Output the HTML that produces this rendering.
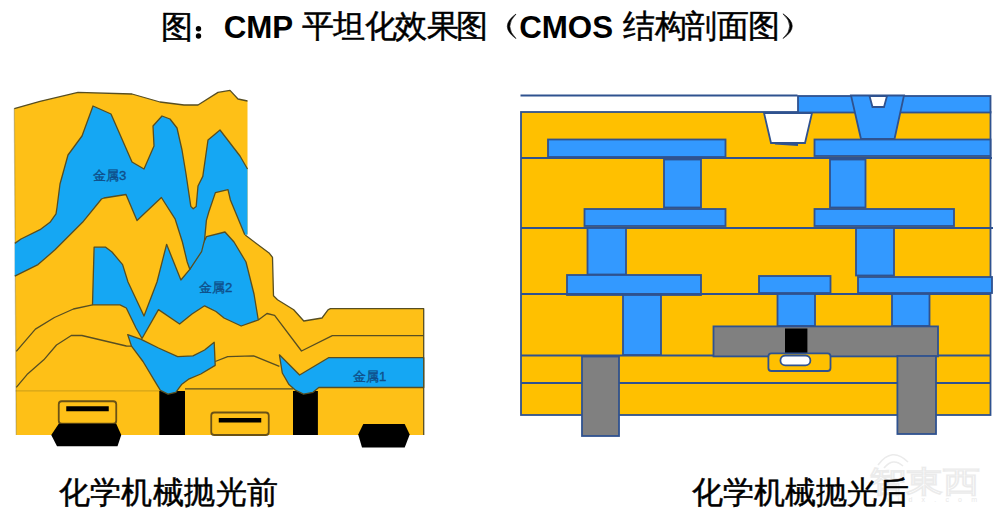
<!DOCTYPE html>
<html><head><meta charset="utf-8">
<style>
html,body{margin:0;padding:0;background:#fff;width:1000px;height:520px;overflow:hidden;}
body{position:relative;font-family:"Liberation Sans",sans-serif;}
svg{position:absolute;left:0;top:0;}
.t{position:absolute;white-space:nowrap;color:#000;line-height:1;-webkit-text-stroke:0.5px #000;}
</style></head><body>
<svg width="1000" height="520" viewBox="0 0 1000 520">
<!-- LEFT DIAGRAM -->
<g stroke="#574e22" stroke-width="1.3" stroke-linejoin="round">
<polygon fill="#FEC017" stroke="none" points="14.3,108.6 40,101.3 78,92.4 132,94 160,102 184,105 198,105 218,92.4 230,90.4 238,99 247.5,101 247.5,234 245.2,235.1 269.4,253.3 272.5,257.3 273.5,295.7 277.5,299.7 293.7,309.8 303.8,321 322,318 328,309.8 330.4,308.7 423.7,308.7 423.7,435 16.2,435"/>
<polyline fill="none" points="14.3,108.6 40,101.3 78,92.4 132,94 160,102 184,105 198,105 218,92.4 230,90.4 238,99 247.5,101"/>
<polyline fill="none" points="245.2,235.1 269.4,253.3 272.5,257.3 273.5,295.7 277.5,299.7 293.7,309.8 303.8,321 322,318 328,309.8 330.4,308.7 423.7,308.7 423.7,435"/>
<line x1="14.3" y1="108.6" x2="16.2" y2="435" stroke-opacity="0.3"/>
<polygon fill="#15A7F3" points="94.1,247.2 105.7,247.2 112,252 122.6,264.6 128,282 144,316 157,282 166.6,244.3 180.9,280 189.8,269.3 206.5,236.6 225,232 234,242 246,262 254,294 258.3,320 241.2,326 224,318 216,311.5 204.6,305.8 192,314 179.6,324 158.5,309.6 142,338.5 136,328 126.3,308 120,304.8 92.5,304.8"/>
<polygon fill="#15A7F3" stroke="none" points="14.8,243.4 21,239 40,229.7 50,222.3 56,213.8 57,207.5 60,184 68,155 82,136 93,106 111,114 132,162 144,169 154,146 153,126 162,116 170,119 177,128 182,150 186,174 190.8,206.4 193.2,208.8 196.2,206.4 198,186 202.8,176.4 208,140 220,130 240,156 247.5,169 247.5,234.8 244.8,234.8 230.4,200 228,189.6 215.4,192.6 208.8,212 206.4,220.4 204.6,239.6 201.6,251.6 189.8,269.3 187.2,262 182.4,242 175.2,219.2 161.4,197.5 137,220.5 126,194.5 104,198 101.5,199 82.5,222.3 55,249.8 38,264.6 14.8,276.2"/>
<polyline fill="none" points="14.8,243.4 21,239 40,229.7 50,222.3 56,213.8 57,207.5 60,184 68,155 82,136 93,106 111,114 132,162 144,169 154,146 153,126 162,116 170,119 177,128 182,150 186,174 190.8,206.4 193.2,208.8 196.2,206.4 198,186 202.8,176.4 208,140 220,130 240,156 247.5,169"/>
<polyline fill="none" points="244.8,234.8 230.4,200 228,189.6 215.4,192.6 208.8,212 206.4,220.4 204.6,239.6 201.6,251.6 189.8,269.3 187.2,262 182.4,242 175.2,219.2 161.4,197.5 137,220.5 126,194.5 104,198 101.5,199 82.5,222.3 55,249.8 38,264.6 14.8,276.2"/>
<polyline fill="none" points="16.3,351.3 35.4,329.1 54.4,317.5 73.4,309 92.5,304.8"/>
<polyline fill="none" points="16.3,387.3 27,374.6 43.8,359.8 56.5,345 71.3,335.5 81.9,335.5 126.3,346 131.5,346.2"/>
<polyline fill="none" points="258.3,320 267,313.5 274.6,315.4 301.5,351 332.3,335.6 423.7,335.6"/>
<polyline fill="none" points="215.2,361.5 227.7,356.7 253.5,355.8 279.4,366.3"/>
<polyline fill="none" stroke-opacity="0.25" points="15.5,390.8 160,390.8"/>
<polyline fill="none" points="185,388.8 293,388.8"/>
<rect x="159.3" y="391" width="25.7" height="44" fill="#000" stroke="none"/>
<rect x="293" y="391" width="24.9" height="44" fill="#000" stroke="none"/>
<polygon fill="#15A7F3" points="127.7,334.6 141.2,339.4 158.5,348 177.7,356.7 193,355.8 204.6,350 214.2,342.3 215.2,365.4 200.8,374 189.2,378.8 181.5,384.6 175.8,392.3 168,394.2 160.4,390.4 154.6,380.8 143,361.5 131.5,346.2"/>
<polygon fill="#15A7F3" points="279.4,354.8 299.6,375 328.5,357.7 423.7,357.7 423.7,387.5 318.8,387.5 313,392.3 303.5,394.2 295.8,390.4 289,384.6 282.3,373"/>
<rect x="58.75" y="401.25" width="57.5" height="22.5" rx="3" fill="#FEC017" stroke="#6a5216" stroke-width="1.8"/>
<rect x="66.25" y="406.25" width="42.5" height="5" fill="#000" stroke="none"/>
<rect x="211.25" y="412.5" width="57.5" height="22.5" rx="3" fill="#FEC017" stroke="#6a5216" stroke-width="1.8"/>
<rect x="218.75" y="418" width="42.5" height="4.5" fill="#000" stroke="none"/>
<polygon fill="#000" stroke="none" points="58.75,423.75 116.25,423.75 121.25,435 117.5,446.25 57,446.25 51.25,435"/>
<polygon fill="#000" stroke="none" points="363.3,424 404.7,424 409.7,434.5 404.7,447.5 362,447.5 358.2,434.5"/>
</g>
<g fill="#0f4f8a" stroke="#0f4f8a" stroke-width="0.35" font-family="Liberation Sans, sans-serif" font-size="13.2">
<text x="93" y="180">金属3</text>
<text x="199" y="292">金属2</text>
<text x="353" y="380.6">金属1</text>
</g>

<g fill="none" stroke="#ebebeb" stroke-width="1.6">
<path d="M878,465 Q892,446 908,462" />
<path d="M884,468 Q893,457 903,466" />
<text x="869" y="492" font-size="30" textLength="111" lengthAdjust="spacingAndGlyphs" font-family="Liberation Sans, sans-serif" stroke-width="1.4">智東西</text>
</g>
<text x="872" y="502" font-size="7" fill="#e8e8e8" font-family="Liberation Sans, sans-serif" textLength="105">z h i d x . c o m</text>
<!-- RIGHT DIAGRAM -->
<g stroke="#2F528F" stroke-width="1.8">
<line x1="520.5" y1="95.5" x2="797.5" y2="95.5"/>
<rect x="521" y="112" width="469.5" height="303" fill="#FFC000"/>
<rect x="798" y="96" width="192.5" height="16.5" fill="#3399FF"/>
<polygon fill="#fff" points="764,113 812,113 805,143 771,143"/>
<line x1="775" y1="143.5" x2="798" y2="145"/>
<polygon fill="#3399FF" points="851,95.5 904,95.5 894.5,139 861,139"/>
<polygon fill="#fff" points="869.5,96 887,96 884,107 872.5,107"/>
<rect x="548" y="139.5" width="177.5" height="17.5" fill="#3399FF"/>
<rect x="814.5" y="139.5" width="176" height="16.5" fill="#3399FF"/>
<line x1="521" y1="158" x2="992" y2="158"/>
<rect x="664" y="159.5" width="37" height="48" fill="#3399FF"/>
<rect x="830" y="159.5" width="35.5" height="48" fill="#3399FF"/>
<rect x="584.5" y="209" width="141" height="17" fill="#3399FF"/>
<rect x="814.5" y="209" width="139.5" height="17" fill="#3399FF"/>
<line x1="521" y1="228" x2="993" y2="228"/>
<rect x="587.5" y="228" width="38.5" height="46.5" fill="#3399FF"/>
<rect x="856" y="228" width="38" height="47.5" fill="#3399FF"/>
<rect x="567" y="275" width="134" height="20" fill="#3399FF"/>
<rect x="759" y="276" width="71.5" height="17" fill="#3399FF"/>
<rect x="858" y="277" width="134" height="16" fill="#3399FF"/>
<line x1="521" y1="294" x2="990" y2="294"/>
<rect x="623" y="295" width="38" height="60" fill="#3399FF"/>
<rect x="777.5" y="294" width="37.5" height="32" fill="#3399FF"/>
<rect x="892" y="294" width="37.5" height="32" fill="#3399FF"/>
<line x1="521" y1="355.5" x2="990" y2="355.5"/>
<rect x="713.5" y="326.4" width="224.5" height="30" fill="#808080"/>
<rect x="785" y="328.5" width="22.4" height="24.9" fill="#000" stroke="none"/>
<rect x="768.4" y="353.4" width="62.1" height="17.6" rx="3" fill="#FFC000"/>
<rect x="780.4" y="355.5" width="30" height="9.9" rx="5" fill="#fff"/>
<line x1="521" y1="383" x2="990" y2="383"/>
<rect x="582" y="356.5" width="37" height="79.5" fill="#808080"/>
<rect x="897.4" y="356" width="38.6" height="78" fill="#808080"/>
</g>
</svg>
<div class="t" style="left:160.8px;top:10.5px;font-size:32px;">图</div>
<svg width="1000" height="60" style="position:absolute;left:0;top:0"><circle cx="198.5" cy="28.7" r="2.7" fill="#000"/><circle cx="198.5" cy="36" r="2.7" fill="#000"/><path d="M516,14 Q498.6,26.4 516,38.6 Q503.6,26.4 516,14 Z" fill="#000" stroke="#000" stroke-width="0.6"/><path d="M783,13.8 Q801.5,26.2 783,38.5 Q796.5,26.2 783,13.8 Z" fill="#000" stroke="#000" stroke-width="0.6"/></svg>
<div class="t" style="left:223.7px;top:11.8px;font-size:31.3px;font-weight:bold;-webkit-text-stroke:0;">CMP</div>
<div class="t" style="left:301.6px;top:10px;font-size:32px;">平</div>
<div class="t" style="left:333px;top:10px;font-size:32px;">坦</div>
<div class="t" style="left:364.6px;top:10px;font-size:32px;">化</div>
<div class="t" style="left:395px;top:10px;font-size:32px;">效</div>
<div class="t" style="left:426.5px;top:10px;font-size:32px;">果</div>
<div class="t" style="left:456px;top:10px;font-size:32px;">图</div>

<div class="t" style="left:519.2px;top:11.8px;font-size:31.3px;font-weight:bold;-webkit-text-stroke:0;">CMOS</div>
<div class="t" style="left:623px;top:10px;font-size:32px;">结</div>
<div class="t" style="left:654.6px;top:10px;font-size:32px;">构</div>
<div class="t" style="left:685px;top:10px;font-size:32px;">剖</div>
<div class="t" style="left:716.6px;top:10px;font-size:32px;">面</div>
<div class="t" style="left:747.5px;top:10px;font-size:32px;">图</div>

<div class="t" style="left:58.6px;top:477.4px;font-size:31.4px;letter-spacing:0.4px;">化学机械抛光前</div>
<div class="t" style="left:692.2px;top:477.4px;font-size:31px;">化学机械抛光后</div>
</body></html>
